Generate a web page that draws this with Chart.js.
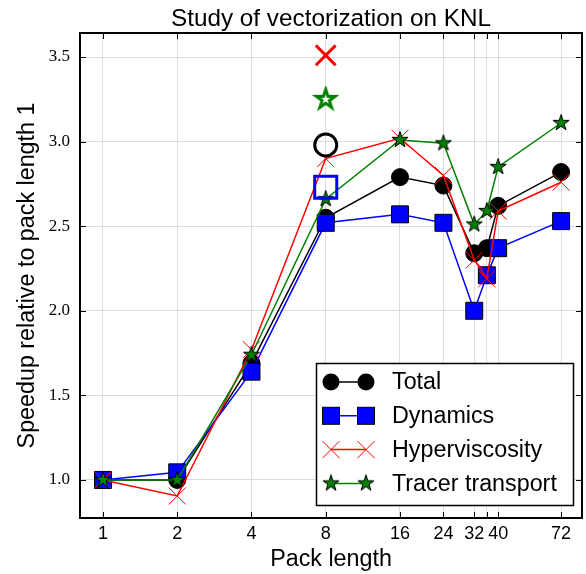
<!DOCTYPE html>
<html><head><meta charset="utf-8">
<script src="https://cdn.jsdelivr.net/npm/chart.js@4"></script>
<style>html,body{margin:0;padding:0;background:#fff;} #wrap{width:586px;height:574px;}</style>
</head><body><div id="wrap"><canvas id="c" width="586" height="574"></canvas></div>
<script>
// ---- data ----
const packLengths = [1, 2, 4, 8, 16, 24, 32, 36, 40, 72];
const totalSpeedup = [1.00, 1.00, 1.69, 2.55, 2.79, 2.74, 2.34, 2.37, 2.62, 2.82];
const dynamicsSpeedup = [1.00, 1.045, 1.64, 2.52, 2.57, 2.52, 2.00, 2.21, 2.37, 2.53];
const hyperviscositySpeedup = [1.00, 0.905, 1.77, 2.90, 3.02, 2.80, 2.30, 2.19, 2.59, 2.76];
const tracerSpeedup = [1.00, 1.00, 1.74, 2.66, 3.01, 2.99, 2.51, 2.59, 2.85, 3.11];
const bestPackLength = [8];
const bestTotal = [2.98];
const bestDynamics = [2.73];
const bestHyperviscosity = [3.51];
const bestTracer = [3.25];
const seriesNames = ['Total', 'Dynamics', 'Hyperviscosity', 'Tracer transport'];
const chartTitle = 'Study of vectorization on KNL';
const xTickValues = [1, 2, 4, 8, 16, 24, 32, 36, 40, 72];
const xTickLabels = ['1', '2', '4', '8', '16', '24', '32', '', '40', '72'];
const yTickValues = [1.0, 1.5, 2.0, 2.5, 3.0, 3.5];

const SANS = '"Liberation Sans", Arial, Helvetica, sans-serif';
const SERIF = '"Liberation Serif", "Times New Roman", serif';
const AREA = {left: 80, right: 582, top: 33, bottom: 518};
const GREEN = '#008000';
const LABEL_SIZE = 23.3;

function toPoints(xs, ys) { return xs.map((x, i) => ({x: x, y: ys[i]})); }

function makeStar(R, fill, stroke, lw) {
  const size = Math.ceil(2 * R + lw + 4);
  const cv = document.createElement('canvas');
  cv.width = size; cv.height = size;
  const c = cv.getContext('2d');
  const cx = size / 2, cy = size / 2;
  c.beginPath();
  for (let k = 0; k < 10; k++) {
    const a = -Math.PI / 2 + k * Math.PI / 5;
    const r = (k % 2 === 0) ? R : R * 0.382;
    const px = cx + r * Math.cos(a), py = cy + r * Math.sin(a);
    if (k === 0) c.moveTo(px, py); else c.lineTo(px, py);
  }
  c.closePath();
  c.fillStyle = fill; c.fill();
  c.lineJoin = 'miter';
  c.lineWidth = lw; c.strokeStyle = stroke; c.stroke();
  return cv;
}
const starFilled = makeStar(8.5, GREEN, '#000', 1);
const starOpen = makeStar(10, '#fff', GREEN, 3);

const seriesStyles = [
  {color: '#000', marker: 'circle'},
  {color: '#0000ff', marker: 'square'},
  {color: '#ff0000', marker: 'x'},
  {color: GREEN, marker: 'star'}
];

function drawMarker(ctx, type, x, y) {
  ctx.save();
  if (type === 'circle') {
    ctx.beginPath(); ctx.arc(x, y, 8.5, 0, Math.PI * 2);
    ctx.fillStyle = '#000'; ctx.fill();
  } else if (type === 'square') {
    ctx.fillStyle = '#0000ff'; ctx.fillRect(x - 8.5, y - 8.5, 17, 17);
    ctx.strokeStyle = '#000'; ctx.lineWidth = 1; ctx.strokeRect(x - 8.5, y - 8.5, 17, 17);
  } else if (type === 'x') {
    ctx.strokeStyle = '#ff0000'; ctx.lineWidth = 1;
    ctx.beginPath();
    ctx.moveTo(x - 8.5, y - 8.5); ctx.lineTo(x + 8.5, y + 8.5);
    ctx.moveTo(x + 8.5, y - 8.5); ctx.lineTo(x - 8.5, y + 8.5);
    ctx.stroke();
  } else if (type === 'star') {
    ctx.drawImage(starFilled, x - starFilled.width / 2, y - starFilled.height / 2);
  }
  ctx.restore();
}

const framePlugin = {
  id: 'frame',
  afterDraw(chart) {
    const ctx = chart.ctx, a = chart.chartArea;
    const xs = chart.scales.x, ys = chart.scales.y;
    ctx.save();
    // title centred over the plot area
    ctx.fillStyle = '#000'; ctx.font = '24.3px ' + SANS;
    ctx.textAlign = 'center'; ctx.textBaseline = 'alphabetic';
    ctx.fillText(chartTitle, (a.left + a.right) / 2, 25.5);
    // inward ticks on all four sides
    ctx.strokeStyle = '#000'; ctx.lineWidth = 1;
    ctx.beginPath();
    xTickValues.forEach(v => {
      const px = Math.round(xs.getPixelForValue(v)) + 0.5;
      ctx.moveTo(px, a.bottom); ctx.lineTo(px, a.bottom - 6);
      ctx.moveTo(px, a.top); ctx.lineTo(px, a.top + 6);
    });
    yTickValues.forEach(v => {
      const py = Math.round(ys.getPixelForValue(v)) + 0.5;
      ctx.moveTo(a.left, py); ctx.lineTo(a.left + 6, py);
      ctx.moveTo(a.right, py); ctx.lineTo(a.right - 6, py);
    });
    ctx.stroke();
    ctx.lineWidth = 2;
    ctx.strokeRect(a.left, a.top, a.right - a.left, a.bottom - a.top);
    // legend
    const bx = 316.5, by = 363.5, bw = 257, bh = 142;
    ctx.fillStyle = '#fff'; ctx.fillRect(bx, by, bw, bh);
    ctx.lineWidth = 1.5; ctx.strokeStyle = '#000'; ctx.strokeRect(bx, by, bw, bh);
    seriesNames.forEach((name, i) => {
      const y = 382 + i * 33.8;
      const st = seriesStyles[i];
      ctx.strokeStyle = st.color; ctx.lineWidth = 1.5;
      ctx.beginPath(); ctx.moveTo(331, y); ctx.lineTo(366, y); ctx.stroke();
      drawMarker(ctx, st.marker, 331, y);
      drawMarker(ctx, st.marker, 366, y);
      ctx.fillStyle = '#000'; ctx.font = LABEL_SIZE + 'px ' + SANS;
      ctx.textAlign = 'left'; ctx.textBaseline = 'middle';
      ctx.fillText(name, 392, y + 1);
    });
    ctx.restore();
  }
};

const lineSeries = [totalSpeedup, dynamicsSpeedup, hyperviscositySpeedup, tracerSpeedup];
const datasets = [
  {label: seriesNames[0], data: toPoints(packLengths, lineSeries[0]), borderColor: '#000', backgroundColor: '#000',
   borderWidth: 1.5, pointStyle: 'circle', pointRadius: 8.5, pointBackgroundColor: '#000', pointBorderColor: '#000', pointBorderWidth: 1, order: 4},
  {label: seriesNames[1], data: toPoints(packLengths, lineSeries[1]), borderColor: '#0000ff', backgroundColor: '#0000ff',
   borderWidth: 1.5, pointStyle: 'rect', pointRadius: 12, pointBackgroundColor: '#0000ff', pointBorderColor: '#000', pointBorderWidth: 1, order: 3},
  {label: seriesNames[2], data: toPoints(packLengths, lineSeries[2]), borderColor: '#ff0000', backgroundColor: '#ff0000',
   borderWidth: 1.5, pointStyle: 'crossRot', pointRadius: 12, pointBackgroundColor: '#ff0000', pointBorderColor: '#ff0000', pointBorderWidth: 1, order: 2},
  {label: seriesNames[3], data: toPoints(packLengths, lineSeries[3]), borderColor: GREEN, backgroundColor: GREEN,
   borderWidth: 1.5, pointStyle: starFilled, pointRadius: 8.5, order: 1},
  {label: 'best total', data: toPoints(bestPackLength, bestTotal), showLine: false, pointStyle: 'circle', pointRadius: 11,
   pointBackgroundColor: 'rgba(0,0,0,0)', pointBorderColor: '#000', pointBorderWidth: 3, order: 0},
  {label: 'best dynamics', data: toPoints(bestPackLength, bestDynamics), showLine: false, pointStyle: 'rect', pointRadius: 15.6,
   pointBackgroundColor: 'rgba(0,0,0,0)', pointBorderColor: '#0000ff', pointBorderWidth: 3, order: 0},
  {label: 'best hyperviscosity', data: toPoints(bestPackLength, bestHyperviscosity), showLine: false, pointStyle: 'crossRot', pointRadius: 14,
   pointBackgroundColor: '#ff0000', pointBorderColor: '#ff0000', pointBorderWidth: 3, order: 0},
  {label: 'best tracer', data: toPoints(bestPackLength, bestTracer), showLine: false, pointStyle: starOpen, pointRadius: 10, order: 0}
];

new Chart(document.getElementById('c'), {
  type: 'line',
  data: {datasets: datasets},
  options: {
    responsive: false, animation: false, devicePixelRatio: 1,
    events: [],
    layout: {autoPadding: false, padding: {left: 0, right: 586 - AREA.right, top: AREA.top, bottom: 0}},
    plugins: {legend: {display: false}, tooltip: {enabled: false}, title: {display: false}},
    scales: {
      x: {
        type: 'logarithmic', min: 0.807, max: 87.5, bounds: 'data',
        afterBuildTicks: s => { s.ticks = xTickValues.map(v => ({value: v})); },
        afterFit: s => { s.height = 574 - AREA.bottom; s.paddingLeft = 0; s.paddingRight = 0; },
        ticks: {autoSkip: false, maxRotation: 0, minRotation: 0, padding: 5, color: '#000',
                font: {family: SANS, size: 18}, callback: (v, i) => xTickLabels[i]},
        grid: {color: '#dcdcdc', drawTicks: false, lineWidth: 1},
        border: {display: false},
        title: {display: true, text: 'Pack length', color: '#000', font: {family: SANS, size: LABEL_SIZE, lineHeight: 1.2}, padding: {top: 0, bottom: 0}}
      },
      y: {
        type: 'linear', min: 0.775, max: 3.642, bounds: 'data',
        afterBuildTicks: s => { s.ticks = yTickValues.map(v => ({value: v})); },
        afterFit: s => { s.width = AREA.left; s.paddingTop = 0; s.paddingBottom = 0; },
        ticks: {padding: 10, color: '#000', font: {family: SERIF, size: 17}, callback: v => Number(v).toFixed(1)},
        grid: {color: '#dcdcdc', drawTicks: false, lineWidth: 1},
        border: {display: false},
        title: {display: true, text: 'Speedup relative to pack length 1', color: '#000', font: {family: SANS, size: LABEL_SIZE, lineHeight: 1.2}, padding: {top: 14, bottom: 0}}
      }
    }
  },
  plugins: [framePlugin]
});
</script>
</body></html>
